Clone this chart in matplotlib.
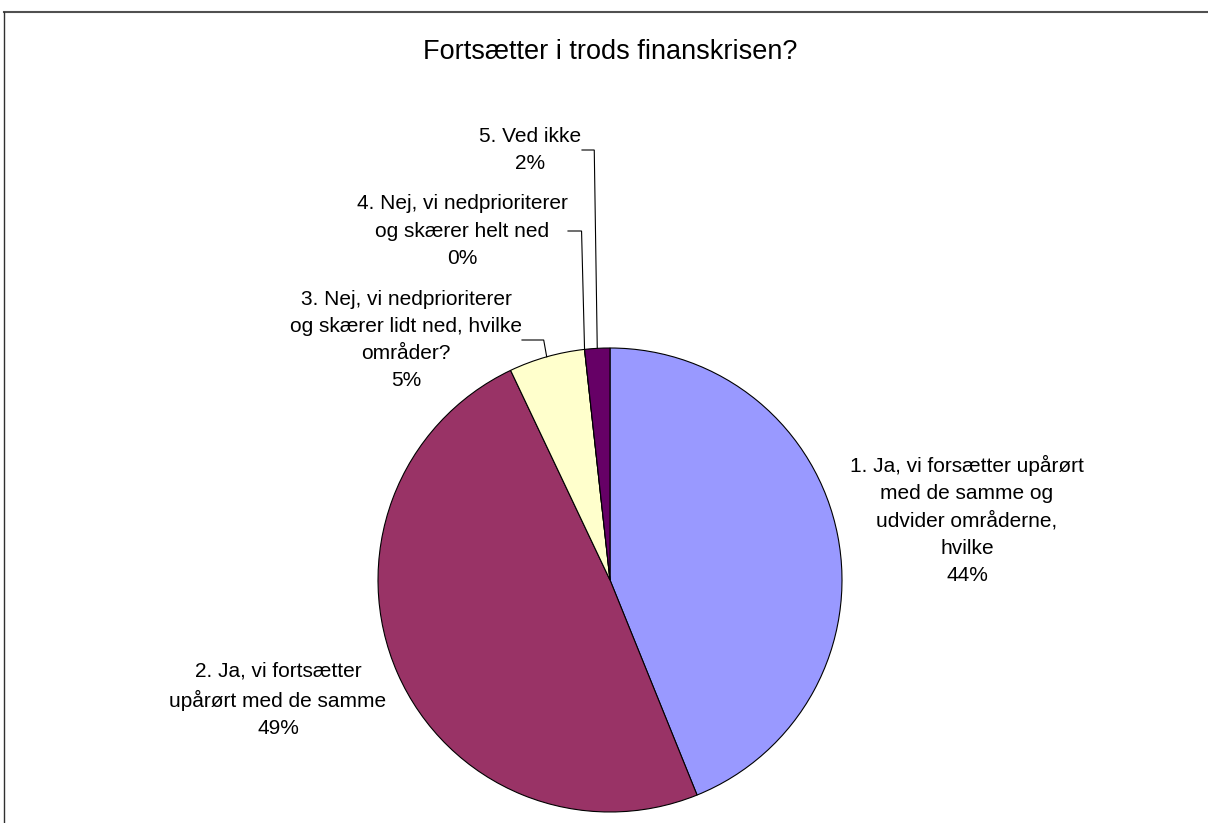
import matplotlib
matplotlib.use("Agg")
import matplotlib.pyplot as plt
import numpy as np

W, H = 1208, 823

title = "Fortsætter i trods finanskrisen?"
categories = [
    "1. Ja, vi forsætter upårørt\nmed de samme og\nudvider områderne,\nhvilke",
    "2. Ja, vi fortsætter\nupårørt med de samme",
    "3. Nej, vi nedprioriterer\nog skærer lidt ned, hvilke\nområder?",
    "4. Nej, vi nedprioriterer\nog skærer helt ned",
    "5. Ved ikke",
]
shares = [43.9, 49.1, 5.3, 0.0, 1.75]
colors = ["#9999FF", "#993366", "#FFFFCC", "#CCFFFF", "#660066"]

# label centre positions in pixel coords (x, y from top)
label_pos = [(967, 520), (278, 700), (406, 340), (462, 231), (530, 150)]
# leader lines: label-side start x for the small slices (None = no leader)
leader_start_x = [None, None, 522, 568, 582]

plt.rcParams['font.family'] = ['Liberation Sans', 'DejaVu Sans']

fig = plt.figure(figsize=(W / 100, H / 100), dpi=100)
ax = fig.add_axes([0, 0, 1, 1])

def Y(y):
    return H - y

cx, cy, r = 610, Y(580), 232
wedges, _ = ax.pie(shares, colors=colors, startangle=90, counterclock=False,
                   center=(cx, cy), radius=r,
                   wedgeprops=dict(edgecolor="black", linewidth=0.8))
ax.set_xlim(0, W)
ax.set_ylim(0, H)
ax.set_aspect("equal")
ax.axis("off")

for i, (cat, v) in enumerate(zip(categories, shares)):
    lx, ly = label_pos[i]
    ax.text(lx, Y(ly), f"{cat}\n{v:.0f}%", ha="center", va="center",
            multialignment="center", fontsize=15, linespacing=1.55, color="black")
    if leader_start_x[i] is not None:
        w = wedges[i]
        mid = np.deg2rad((w.theta1 + w.theta2) / 2)
        ex, ey = cx + r * np.cos(mid), cy + r * np.sin(mid)
        sx = leader_start_x[i]
        ax.plot([sx, ex - 3, ex], [Y(ly), Y(ly), ey], color="black",
                linewidth=0.8, solid_joinstyle="miter", clip_on=False)

ax.text(610, Y(52), title, ha="center", va="center", fontsize=19.5, color="black")

# chart-area border (top and left edges visible)
ax.plot([4, W], [Y(12), Y(12)], color="#505050", linewidth=1.5, clip_on=False)
ax.plot([4, 4], [Y(12), 0], color="#303030", linewidth=1.0, clip_on=False)

fig.savefig("out.png", dpi=100)
